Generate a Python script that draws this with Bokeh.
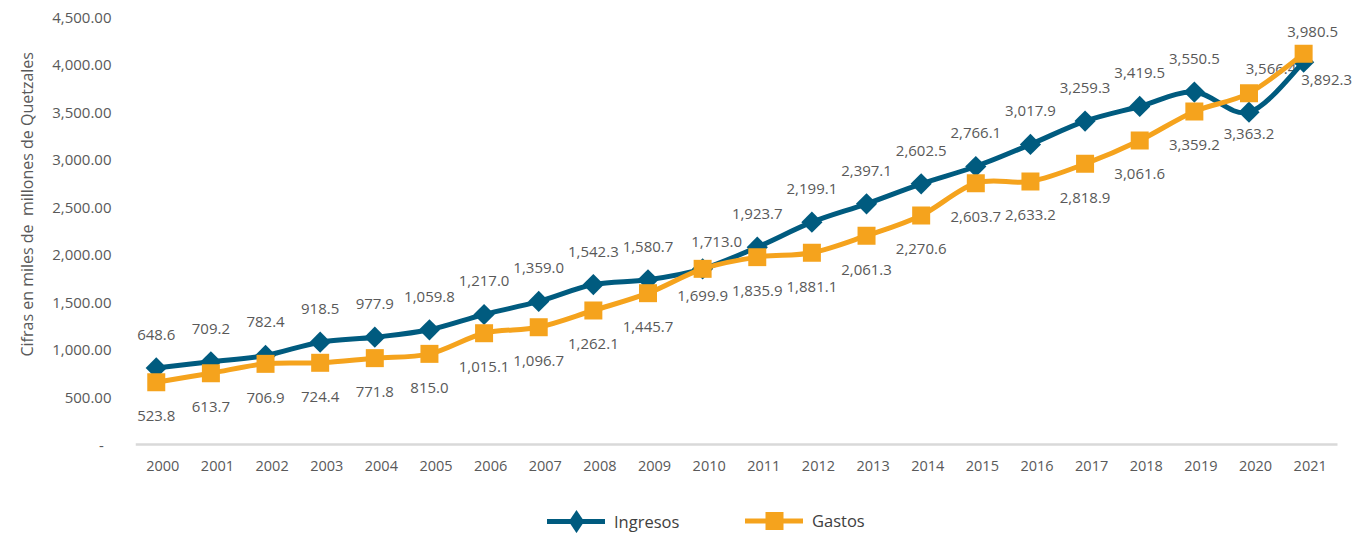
import numpy as np
from bokeh.plotting import figure
from bokeh.models import (Range1d, FixedTicker, CustomJSTickFormatter, Legend,
                          LegendItem, Title, ColumnDataSource)
from bokeh.core.properties import value
from bokeh.embed import file_html
from bokeh.resources import INLINE

# ---------------- data ----------------
years = [2000, 2001, 2002, 2003, 2004, 2005, 2006, 2007, 2008, 2009, 2010,
         2011, 2012, 2013, 2014, 2015, 2016, 2017, 2018, 2019, 2020, 2021]

# plotted positions
ingresos = [805, 870, 936, 1076, 1128, 1206, 1367, 1504, 1682, 1732, 1847,
            2075, 2338, 2531, 2741, 2923, 3155, 3400, 3554, 3705, 3494, 4020]
gastos = [655, 750, 848, 859, 908, 953, 1170, 1233, 1409, 1591, 1847,
          1970, 2016, 2195, 2408, 2748, 2766, 2951, 3197, 3502, 3694, 4108]

# data-label texts (as printed on the chart)
ingresos_labels = ["648.6", "709.2", "782.4", "918.5", "977.9", "1,059.8",
                   "1,217.0", "1,359.0", "1,542.3", "1,580.7", "1,713.0",
                   "1,923.7", "2,199.1", "2,397.1", "2,602.5", "2,766.1",
                   "3,017.9", "3,259.3", "3,419.5", "3,550.5", "3,363.2", "3,892.3"]
gastos_labels = ["523.8", "613.7", "706.9", "724.4", "771.8", "815.0",
                 "1,015.1", "1,096.7", "1,262.1", "1,445.7", "1,699.9",
                 "1,835.9", "1,881.1", "2,061.3", "2,270.6", "2,603.7",
                 "2,633.2", "2,818.9", "3,061.6", "3,359.2", "3,566.4", "3,980.5"]

y_ticks = [0, 500, 1000, 1500, 2000, 2500, 3000, 3500, 4000, 4500]
y_title = "Cifras en miles de\u00a0 millones de Quetzales"

# ---------------- style ----------------
C_ING = "#005B7F"
C_GAS = "#F5A31D"
TXT = "#595959"
FONT = "Open Sans"

W, H = 1366, 533
LEFT, RIGHT, TOP = 135, 10, 16
ZERO_PX = 444            # canvas row of the value 0
AXIS_END_PX = 1337       # end of the category axis line
Y_MAX = 4500

n = len(years)
xs = list(range(n))
shift = 0.12             # tick labels sit slightly right of the markers
px_per_cat = (AXIS_END_PX - LEFT) / n
x_lo = shift - 0.5
x_hi = x_lo + (W - RIGHT - LEFT) / px_per_cat
y_lo = -Y_MAX * (H - ZERO_PX) / (ZERO_PX - TOP)

p = figure(width=W, height=H, output_backend="svg", toolbar_location=None,
           x_range=Range1d(x_lo, x_hi), y_range=Range1d(y_lo, Y_MAX),
           x_axis_location=None,
           min_border_left=LEFT, min_border_right=RIGHT, min_border_top=TOP,
           min_border_bottom=0)
p.outline_line_color = None
p.xgrid.grid_line_color = None
p.ygrid.grid_line_color = None
p.background_fill_color = "white"
p.border_fill_color = "white"

# y axis
p.yaxis.ticker = FixedTicker(ticks=y_ticks)
p.yaxis.formatter = CustomJSTickFormatter(code="""
if (tick == 0) { return "-\u00a0\u00a0"; }
return tick.toLocaleString('en-US', {minimumFractionDigits: 2, maximumFractionDigits: 2});
""")
p.yaxis.axis_line_color = None
p.yaxis.major_tick_line_color = None
p.yaxis.minor_tick_line_color = None
p.yaxis.major_label_standoff = 18
p.yaxis.major_label_text_font = FONT
p.yaxis.major_label_text_font_size = "15px"
p.yaxis.major_label_text_color = TXT

p.add_layout(Title(text=y_title, align="left", offset=177, standoff=23,
                   text_font=FONT, text_font_size="16px", text_font_style="normal",
                   text_color=TXT), "left")

# category axis line and year labels
p.segment(x0=[x_lo], y0=[0], x1=[n - 1 + shift + 0.5], y1=[0],
          line_color="#D9D9D9", line_width=2.5)
p.text(x=[i + shift for i in xs], y=[0] * n, text=[str(y) for y in years],
       y_offset=21, text_align="center", text_baseline="middle",
       text_font=value(FONT), text_font_size="14.5px", text_color=TXT)

# ---------------- data labels ----------------
ing_dx = [0] * n
ing_dy = [-33] * n
gas_dx = [0] * n
gas_dy = [34] * n
ing_dx[10], ing_dy[10] = 14, -27
gas_dy[10] = 27
ing_dy[20] = 22
ing_dx[21], ing_dy[21] = 23, 18
gas_dx[20], gas_dy[20] = 22, -24
gas_dx[21], gas_dy[21] = 9, -22

for vals, labs, dx, dy in [(ingresos, ingresos_labels, ing_dx, ing_dy),
                           (gastos, gastos_labels, gas_dx, gas_dy)]:
    src = ColumnDataSource(dict(x=xs, y=vals, t=labs, dx=dx, dy=dy))
    p.text(x="x", y="y", text="t", x_offset="dx", y_offset="dy", source=src,
           text_align="center", text_baseline="middle",
           text_font=value(FONT), text_font_size="15px", text_color=TXT)


# ---------------- smoothed lines ----------------
def bezier_source(xv, yv):
    m = len(xv)
    d = dict(x0=[], y0=[], x1=[], y1=[], cx0=[], cy0=[], cx1=[], cy1=[])
    for i in range(m - 1):
        i0 = max(i - 1, 0)
        i3 = min(i + 2, m - 1)
        d["x0"].append(xv[i]); d["y0"].append(yv[i])
        d["x1"].append(xv[i + 1]); d["y1"].append(yv[i + 1])
        d["cx0"].append(xv[i] + (xv[i + 1] - xv[i0]) / 6)
        d["cy0"].append(yv[i] + (yv[i + 1] - yv[i0]) / 6)
        d["cx1"].append(xv[i + 1] - (xv[i3] - xv[i]) / 6)
        d["cy1"].append(yv[i + 1] - (yv[i3] - yv[i]) / 6)
    return ColumnDataSource(d)


renderers = {}
for name, vals, col, size, ang, leg_marker, leg_size in [
        ("Ingresos", ingresos, C_ING, 15, np.pi / 4, "diamond", 23),
        ("Gastos", gastos, C_GAS, 18, 0, "square", 18)]:
    bz = p.bezier(x0="x0", y0="y0", x1="x1", y1="y1", cx0="cx0", cy0="cy0",
                  cx1="cx1", cy1="cy1", source=bezier_source(xs, vals),
                  line_color=col, line_width=5, line_cap="round")
    src = ColumnDataSource(dict(x=xs, y=vals))
    # legend proxy marker (tiny, hidden under the real markers; the legend
    # sizes its marker from the legend glyph box)
    proxy = p.scatter(x="x", y="y", source=src, marker=leg_marker, size=2,
                      fill_color=col, line_color=col, line_width=0)
    p.scatter(x="x", y="y", source=src, marker="square", size=size, angle=ang,
              fill_color=col, line_color=col, line_width=0)
    renderers[name] = (bz, proxy, leg_size)

# ---------------- legends (inside the extended frame) ----------------
for name, x_loc in [("Ingresos", 412), ("Gastos", 610)]:
    bz, proxy, leg_size = renderers[name]
    gh = int(round(leg_size / 0.4))
    y_loc = int(round(H - (521 + gh / 2)))
    leg = Legend(items=[LegendItem(label=name, renderers=[bz, proxy])],
                 location=(x_loc, y_loc), orientation="horizontal", glyph_width=58,
                 glyph_height=gh, label_standoff=9, padding=0, margin=0,
                 border_line_alpha=0, background_fill_alpha=0,
                 label_text_font=FONT, label_text_font_size="16.5px",
                 label_text_color="#404040")
    p.add_layout(leg)

open("out.html", "w").write(file_html(p, INLINE))
